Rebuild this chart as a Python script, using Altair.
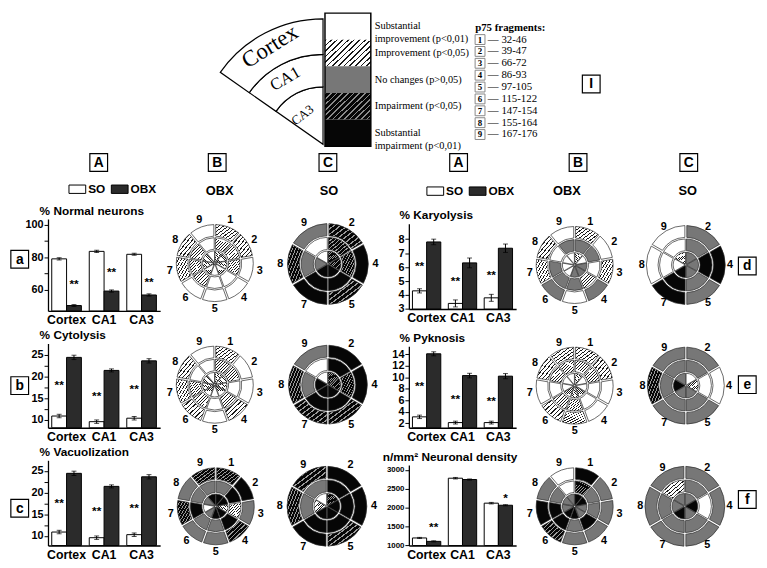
import math
import json
import altair as alt
import pandas as pd

# ---------------- layout scale (reference px -> page px) ----------------
SX = 0.99
SY = 0.972
def X(v): return round(v * SX, 2)
def Y(v): return round(v * SY, 2)
W = X(767)
H = Y(568)

SANS = "Liberation Sans"
SERIF = "Liberation Serif"

# ---------------- data ----------------
categories = ["Cortex", "CA1", "CA3"]
groups = ["SO", "OBX"]

normal_so = [79.0, 83.6, 81.8]
normal_obx = [50.3, 59.2, 56.8]
normal_so_err = [0.7, 0.7, 0.6]
normal_obx_err = [0.6, 0.7, 0.7]
normal_star_y = [63.5, 71.0, 64.7]
normal_star_txt = ["**", "**", "**"]

cyto_so = [10.9, 9.6, 10.4]
cyto_obx = [24.4, 21.4, 23.6]
cyto_so_err = [0.4, 0.4, 0.4]
cyto_obx_err = [0.5, 0.35, 0.5]
cyto_star_y = [18.1, 15.5, 17.0]
cyto_star_txt = ["**", "**", "**"]

vac_so = [10.9, 9.6, 10.3]
vac_obx = [24.4, 21.4, 23.6]
vac_so_err = [0.4, 0.4, 0.4]
vac_obx_err = [0.5, 0.35, 0.5]
vac_star_y = [17.6, 15.7, 16.5]
vac_star_txt = ["**", "**", "**"]

karyo_so = [4.3, 3.4, 3.8]
karyo_obx = [7.8, 6.3, 7.35]
karyo_so_err = [0.15, 0.25, 0.25]
karyo_obx_err = [0.2, 0.35, 0.3]
karyo_star_y = [6.1, 5.0, 5.4]
karyo_star_txt = ["**", "**", "**"]

pyk_so = [3.1, 2.1, 2.1]
pyk_obx = [14.1, 10.3, 10.2]
pyk_so_err = [0.3, 0.25, 0.25]
pyk_obx_err = [0.35, 0.4, 0.45]
pyk_star_y = [8.5, 6.2, 5.8]
pyk_star_txt = ["**", "**", "**"]

dens_so = [1200, 2780, 2120]
dens_obx = [1110, 2745, 2065]
dens_so_err = [15, 20, 20]
dens_obx_err = [15, 15, 15]
dens_star_y = [1490, 0, 2250]
dens_star_txt = ["**", "", "*"]

# polar cell states: 0 substantial improvement, 1 improvement, 2 no change,
# 3 impairment, 4 substantial impairment ; rows = [Cortex, CA1, CA3]
obx_sectors = ["1", "2", "3", "4", "5", "6", "7", "8", "9"]
so_sectors = ["2", "4", "5", "7", "8", "9"]

normal_obx_cells = [[1, 1, 0, 0, 0, 0, 1, 1, 0],
                    [1, 1, 1, 0, 0, 1, 1, 1, 0],
                    [1, 1, 1, 1, 0, 1, 1, 1, 0]]
normal_so_cells = [[3, 4, 3, 4, 3, 2],
                   [3, 3, 4, 4, 2, 0],
                   [3, 3, 4, 4, 2, 0]]
cyto_obx_cells = [[1, 0, 0, 1, 0, 1, 1, 1, 0],
                  [1, 1, 0, 1, 0, 1, 1, 0, 0],
                  [1, 1, 1, 1, 0, 1, 1, 1, 0]]
cyto_so_cells = [[4, 4, 3, 3, 3, 2],
                 [4, 3, 4, 4, 2, 0],
                 [3, 3, 4, 4, 4, 0]]
vac_obx_cells = [[3, 4, 2, 3, 2, 2, 3, 2, 3],
                 [2, 4, 1, 4, 2, 2, 4, 2, 2],
                 [4, 4, 1, 4, 4, 2, 0, 2, 4]]
vac_so_cells = [[4, 4, 3, 4, 3, 3],
                [4, 4, 4, 4, 2, 2],
                [3, 4, 4, 4, 1, 0]]
karyo_obx_cells = [[1, 0, 1, 2, 0, 2, 1, 1, 0],
                   [2, 2, 0, 1, 2, 2, 2, 0, 2],
                   [1, 0, 2, 2, 2, 0, 0, 0, 0]]
karyo_so_cells = [[2, 4, 2, 4, 0, 0],
                  [2, 4, 2, 4, 0, 0],
                  [2, 2, 2, 4, 0, 1]]
pyk_obx_cells = [[1, 1, 0, 0, 1, 1, 0, 1, 1],
                 [1, 1, 0, 0, 1, 1, 0, 1, 1],
                 [1, 0, 0, 1, 1, 1, 0, 0, 0]]
pyk_so_cells = [[2, 0, 2, 2, 3, 2],
                [2, 0, 2, 2, 2, 2],
                [0, 1, 2, 2, 4, 2]]
dens_obx_cells = [[4, 2, 2, 2, 2, 3, 4, 2, 0],
                  [3, 2, 2, 4, 2, 4, 4, 2, 0],
                  [4, 4, 2, 2, 4, 4, 2, 2, 2]]
dens_so_cells = [[2, 2, 2, 2, 2, 2],
                 [2, 0, 2, 2, 2, 1],
                 [2, 4, 2, 4, 2, 2]]

legend_labels = ["Substantial\nimprovement (p<0,01)", "Improvement (p<0,05)",
                 "No changes (p>0,05)", "Impairment (p<0,05)",
                 "Substantial\nimpairment (p<0,01)"]
fragment_ids = ["1", "2", "3", "4", "5", "6", "7", "8", "9"]
fragment_ranges = ["32-46", "39-47", "66-72", "86-93", "97-105",
                   "115-122", "147-154", "155-164", "167-176"]
region_names = ["CA3", "CA1", "Cortex"]


# ---------------- styles ----------------
def stripes(bg, fg, n=10, frac=0.3, x2=1.0, y2=1.0):
    stops = []
    for i in range(n):
        a = i / n
        b = (i + frac) / n
        c = (i + 1) / n
        stops += [alt.GradientStop(offset=a, color=fg), alt.GradientStop(offset=b, color=fg),
                  alt.GradientStop(offset=b, color=bg), alt.GradientStop(offset=c, color=bg)]
    return alt.LinearGradient(gradient="linear", stops=stops, x1=0, y1=0, x2=x2, y2=y2)


GRAY = "#777777"
BLACK = "#060606"
CELL_FILL = {0: "white", 1: stripes("white", "#1a1a1a"), 2: GRAY,
             3: stripes(BLACK, "#9a9a9a"), 4: BLACK}
LEG_FILL = {0: "white", 1: stripes("white", "#1a1a1a", n=13, x2=1.18, y2=0.71), 2: GRAY,
            3: stripes(BLACK, "#8a8a8a", n=13, x2=1.18, y2=0.71), 4: BLACK}


def letter_box(letter, cx, cy, fs=14, size=18):
    df = pd.DataFrame({"t": [letter]})
    box = alt.Chart(df).mark_square(size=size * size, fill="white", stroke="black",
                                    strokeWidth=1.2, opacity=1).encode(
        x=alt.value(X(cx)), y=alt.value(Y(cy)))
    txt = alt.Chart(df).mark_text(font=SANS, fontWeight="bold", fontSize=fs, color="black",
                                  baseline="middle").encode(
        x=alt.value(X(cx)), y=alt.value(Y(cy) + 0.5), text="t:N")
    return alt.layer(box, txt)


def label(text, cx, cy, fs=13):
    df = pd.DataFrame({"t": [text]})
    return alt.Chart(df).mark_text(font=SANS, fontWeight="bold", fontSize=fs, color="black",
                                   baseline="middle").encode(
        x=alt.value(X(cx)), y=alt.value(Y(cy)), text="t:N")


def bar_panel(title, so, obx, so_err, obx_err, star_y, star_txt, star_grp, domain,
              ticks, labels, x0, x1, ytop, ybot, legend=None, title_dx=-9, label_size=11):
    recs = []
    for i, c in enumerate(categories):
        recs.append({"cat": c, "grp": "SO", "val": so[i], "err": so_err[i]})
        recs.append({"cat": c, "grp": "OBX", "val": obx[i], "err": obx_err[i]})
    df = pd.DataFrame(recs)
    srecs = [{"cat": c, "grp": star_grp, "y": star_y[i], "txt": star_txt[i]}
             for i, c in enumerate(categories) if star_txt[i]]
    sdf = pd.DataFrame(srecs)
    lab_expr = ("indexof(" + json.dumps(labels) +
                ", datum.value) >= 0 ? format(datum.value, 'd') : ''")
    xax = alt.Axis(title=None, orient="bottom", offset=Y(ybot) - H, labelAngle=0,
                   labelFont=SANS, labelFontWeight="bold", labelFontSize=12.5,
                   labelColor="black", ticks=False, domainColor="black", domainWidth=1.3,
                   labelPadding=3, grid=False)
    xsc = alt.Scale(range=[X(x0), X(x1)], paddingInner=0.21, paddingOuter=0.1)
    xenc = alt.X("cat:N", sort=categories, scale=xsc, axis=xax)
    xo = alt.XOffset("grp:N", sort=groups, scale=alt.Scale(paddingInner=0, paddingOuter=0))
    ysc = alt.Scale(domain=domain, range=[Y(ybot), Y(ytop)], nice=False, zero=False)
    yax = alt.Axis(title=title, orient="left", offset=-X(x0), titleAngle=0, titleAlign="left",
                   titleBaseline="bottom", titleX=title_dx, titleY=Y(ytop) - 2,
                   titleFont=SANS, titleFontWeight="bold", titleFontSize=12,
                   titleColor="black", values=ticks, labelExpr=lab_expr, grid=False,
                   tickSize=4, tickColor="black", domainColor="black", domainWidth=1.3,
                   labelFont=SANS, labelFontWeight="bold", labelFontSize=label_size,
                   labelColor="black", labelPadding=1, labelOverlap=False)
    base = alt.Chart(df)
    bars = base.mark_bar(stroke="black", strokeWidth=1).encode(
        x=xenc, xOffset=xo, y=alt.Y("val:Q", scale=ysc, axis=yax),
        y2=alt.Y2(datum=domain[0]),
        fill=alt.Fill("grp:N", scale=alt.Scale(domain=groups, range=["white", "#2b2b2b"]),
                      legend=legend))
    errs = base.transform_calculate(lo="datum.val - datum.err", hi="datum.val + datum.err")
    rule = errs.mark_rule(color="black", strokeWidth=1).encode(
        x=xenc, xOffset=xo, y=alt.Y("lo:Q", scale=ysc, axis=yax), y2="hi:Q")
    cap_lo = errs.mark_tick(color="black", size=5, thickness=1).encode(
        x=xenc, xOffset=xo, y=alt.Y("lo:Q", scale=ysc, axis=yax))
    cap_hi = errs.mark_tick(color="black", size=5, thickness=1).encode(
        x=xenc, xOffset=xo, y=alt.Y("hi:Q", scale=ysc, axis=yax))
    star = alt.Chart(sdf).mark_text(font=SANS, fontWeight="bold", fontSize=12,
                                    color="black", baseline="middle").encode(
        x=xenc, xOffset=xo, y=alt.Y("y:Q", scale=ysc, axis=yax), text="txt:N")
    return alt.layer(bars, rule, cap_lo, cap_hi, star)


def polar_panel(cells, labels, cx, cy, R, lab_gap=6.5):
    n = len(labels)
    R = Y(R)
    recs = []
    for ring, states in enumerate(reversed(cells)):  # ring 0 = CA3 (inner)
        for k, s in enumerate(states):
            recs.append({"t0": k, "t1": k + 1, "r0": ring, "r1": ring + 1, "state": s})
    cdf = pd.DataFrame(recs)
    lr = 3 * (R + lab_gap) / R
    ldf = pd.DataFrame({"t": [k + 0.5 for k in range(n)], "r": [lr] * n, "lab": labels})
    th = alt.Scale(domain=[0, n], range=[0, 2 * math.pi])
    rs = alt.Scale(type="linear", domain=[0, 3], range=[0, R])
    px, py = alt.value(X(cx)), alt.value(Y(cy))
    ls = []
    for s in range(5):
        ls.append(alt.Chart(cdf).transform_filter(alt.datum.state == s).mark_arc(
            fill=CELL_FILL[s], stroke="#2a2a2a", strokeWidth=0.7, padAngle=0.04,
            radiusOffset=-0.8, radius2Offset=0.8).encode(
            theta=alt.Theta("t0:Q", scale=th, stack=False), theta2="t1:Q",
            radius=alt.Radius("r1:Q", scale=rs), radius2="r0:Q", x=px, y=py))
    txt = alt.Chart(ldf).mark_text(font=SANS, fontWeight="bold", fontSize=11,
                                   color="black", baseline="middle").encode(
        theta=alt.Theta("t:Q", scale=th, stack=False),
        radius=alt.Radius("r:Q", scale=rs), text="lab:N", x=px, y=py)
    return alt.layer(*ls, txt)


# ---------------- top section ----------------
wedge_df = pd.DataFrame({"name": region_names, "r0": [0, 1, 2], "r1": [1, 2, 3],
                         "a0": [305, 305, 305], "a1": [360, 360, 360]})
wedge_lab = pd.DataFrame({"name": ["Cortex", "CA1", "CA3"], "r": [2.6, 1.55, 0.62],
                          "a": [331.5, 330, 325]})
wth = alt.Scale(domain=[0, 360], range=[0, 2 * math.pi])
wrs = alt.Scale(type="linear", domain=[0, 1, 2, 3], range=[0, Y(60), Y(94), Y(131)])
wcx = alt.value(X(322))
wcy = alt.value(Y(137))
wedge_arcs = alt.Chart(wedge_df).mark_arc(fill="white", stroke="black", strokeWidth=1.2).encode(
    theta=alt.Theta("a0:Q", scale=wth, stack=False), theta2="a1:Q",
    radius=alt.Radius("r1:Q", scale=wrs), radius2="r0:Q", x=wcx, y=wcy)
wl_layers = []
for nm, fs, ang in [("Cortex", 23, -32), ("CA1", 17, -30), ("CA3", 13, -38)]:
    wl_layers.append(alt.Chart(wedge_lab).transform_filter(alt.datum.name == nm).mark_text(
        font=SERIF, fontSize=fs, angle=360 + ang, color="black", baseline="middle").encode(
        theta=alt.Theta("a:Q", scale=wth, stack=False), radius=alt.Radius("r:Q", scale=wrs),
        x=wcx, y=wcy, text="name:N"))
wedge = alt.layer(wedge_arcs, *wl_layers)

leg_df = pd.DataFrame({"lab": legend_labels, "state": [0, 1, 2, 3, 4]})
ysc_leg = alt.Scale(domain=legend_labels, range=[0, Y(139)], paddingInner=0, paddingOuter=0)
leg_layers = []
for s in range(5):
    leg_layers.append(alt.Chart(leg_df).transform_filter(alt.datum.state == s).mark_rect(
        fill=LEG_FILL[s]).encode(
        y=alt.Y("lab:N", sort=legend_labels, scale=ysc_leg, axis=None),
        x=alt.value(X(324)), x2=alt.value(X(371))))
leg_frame = alt.Chart(pd.DataFrame({"lab": [legend_labels[0]]})).mark_rect(
    fill=None, stroke="black", strokeWidth=1.5).encode(
    x=alt.value(X(324)), x2=alt.value(X(371)), y=alt.value(0), y2=alt.value(Y(139)))
leg_text = alt.Chart(leg_df).mark_text(font=SERIF, fontSize=10.5, align="left", baseline="middle",
                                       lineBreak="\n", lineHeight=13, color="black").encode(
    y=alt.Y("lab:N", sort=legend_labels, scale=ysc_leg, axis=None), x=alt.value(X(375)),
    text="lab:N")
legend_bar = alt.layer(*leg_layers, leg_frame, leg_text)

p75_keys = ["t"] + fragment_ids
p75_df = pd.DataFrame({"k": fragment_ids, "rng": ["\u2014 " + r for r in fragment_ranges]})
p75_title = pd.DataFrame({"k": ["t"], "txt": ["p75 fragments:"]})
pys = alt.Scale(domain=p75_keys, range=[Y(9), Y(133)])
pyenc = alt.Y("k:O", scale=pys, axis=None, sort=p75_keys)
p_title = alt.Chart(p75_title).mark_text(font=SERIF, fontWeight="bold", fontSize=11, align="left",
                                         baseline="middle", color="black").encode(
    y=pyenc, x=alt.value(X(478)), text="txt:N")
p_box = alt.Chart(p75_df).mark_square(size=100, fill="white", stroke="#888", strokeWidth=1,
                                      opacity=1).encode(y=pyenc, x=alt.value(X(483)))
p_num = alt.Chart(p75_df).mark_text(font=SERIF, fontWeight="bold", fontSize=9,
                                    baseline="middle", color="black").encode(
    y=pyenc, x=alt.value(X(483)), text="k:N")
p_rng = alt.Chart(p75_df).mark_text(font=SERIF, fontSize=11, align="left", baseline="middle",
                                    color="black").encode(
    y=pyenc, x=alt.value(X(491)), text="rng:N")
p75 = alt.layer(p_title, p_box, p_num, p_rng)

# ---------------- panels ----------------
def bar_legend(lx, ly):
    return alt.Legend(title=None, orient="none", legendX=X(lx), legendY=Y(ly) - 8.5,
                      direction="horizontal", symbolType="M-1,-0.5H1V0.5H-1Z",
                      symbolSize=289, symbolStrokeColor="black", symbolStrokeWidth=1,
                      labelFont=SANS, labelFontWeight="bold", labelFontSize=12,
                      labelColor="black", labelOffset=2, columnPadding=3)

bar_a = bar_panel("% Normal neurons", normal_so, normal_obx, normal_so_err, normal_obx_err,
                  normal_star_y, normal_star_txt, "OBX", [47, 103.5], [60, 70, 80, 90, 100],
                  [60, 80, 100], 40, 155, 215, 311, legend=bar_legend(61, 183))
bar_b = bar_panel("% Cytolysis", cyto_so, cyto_obx, cyto_so_err, cyto_obx_err,
                  cyto_star_y, cyto_star_txt, "SO", [8.2, 27.6],
                  [10, 12.5, 15, 17.5, 20, 22.5, 25], [10, 15, 20, 25], 40, 155, 345, 433)
bar_c = bar_panel("% Vacuolization", vac_so, vac_obx, vac_so_err, vac_obx_err,
                  vac_star_y, vac_star_txt, "SO", [7.8, 27.4],
                  [10, 12.5, 15, 17.5, 20, 22.5, 25], [10, 15, 20, 25], 40, 155, 467, 556)
bar_d = bar_panel("% Karyolysis", karyo_so, karyo_obx, karyo_so_err, karyo_obx_err,
                  karyo_star_y, karyo_star_txt, "SO", [3, 9.1], [3, 4, 5, 6, 7, 8],
                  [3, 4, 5, 6, 7, 8], 410, 520, 220, 309, legend=bar_legend(428, 185),
                  title_dx=-10)
bar_e = bar_panel("% Pyknosis", pyk_so, pyk_obx, pyk_so_err, pyk_obx_err,
                  pyk_star_y, pyk_star_txt, "SO", [1.2, 15.4], [2, 4, 6, 8, 10, 12, 14],
                  [2, 4, 6, 8, 10, 12, 14], 410, 520, 348, 433, title_dx=-10)
bar_f = bar_panel("n/mm\u00b2 Neuronal density", dens_so, dens_obx, dens_so_err, dens_obx_err,
                  dens_star_y, dens_star_txt, "OBX", [1000, 3127],
                  [1000, 1500, 2000, 2500, 3000], [1000, 1500, 2000, 2500, 3000],
                  410, 520, 472, 556, title_dx=-27, label_size=8)

polars = [
    polar_panel(normal_obx_cells, obx_sectors, 211, 261, 41),
    polar_panel(normal_so_cells, so_sectors, 327, 262, 43),
    polar_panel(cyto_obx_cells, obx_sectors, 211, 388, 41),
    polar_panel(cyto_so_cells, so_sectors, 327, 388, 42),
    polar_panel(vac_obx_cells, obx_sectors, 212, 515, 41),
    polar_panel(vac_so_cells, so_sectors, 326, 515, 42.5),
    polar_panel(karyo_obx_cells, obx_sectors, 580, 263, 41),
    polar_panel(karyo_so_cells, so_sectors, 694, 263, 42, lab_gap=4),
    polar_panel(pyk_obx_cells, obx_sectors, 580, 389, 41),
    polar_panel(pyk_so_cells, so_sectors, 694, 389, 41, lab_gap=4),
    polar_panel(dens_obx_cells, obx_sectors, 580, 515, 41),
    polar_panel(dens_so_cells, so_sectors, 693, 515, 42.5, lab_gap=4),
]

decor = [
    letter_box("A", 92, 156), letter_box("B", 213.5, 156), letter_box("C", 327, 156),
    letter_box("A", 461, 156), letter_box("B", 583.5, 156), letter_box("C", 697, 156),
    letter_box("I", 597, 74),
    letter_box("a", 11, 257), letter_box("b", 11, 389), letter_box("c", 11, 517),
    letter_box("d", 757, 264), letter_box("e", 757, 388), letter_box("f", 757, 508),
    label("OBX", 216, 186), label("SO", 328, 186), label("OBX", 572, 186), label("SO", 696, 186),
]

chart = alt.layer(
    wedge, legend_bar, p75, *decor, bar_a, bar_b, bar_c, bar_d, bar_e, bar_f, *polars
).resolve_scale(
    x="independent", y="independent", fill="independent", xOffset="independent",
    theta="independent", radius="independent"
).resolve_axis(x="independent", y="independent").resolve_legend(fill="independent").properties(
    width=W, height=H, padding=0, background="white"
).configure_view(stroke=None)

chart.save("out.html", embed_options={"renderer": "svg", "actions": False})
